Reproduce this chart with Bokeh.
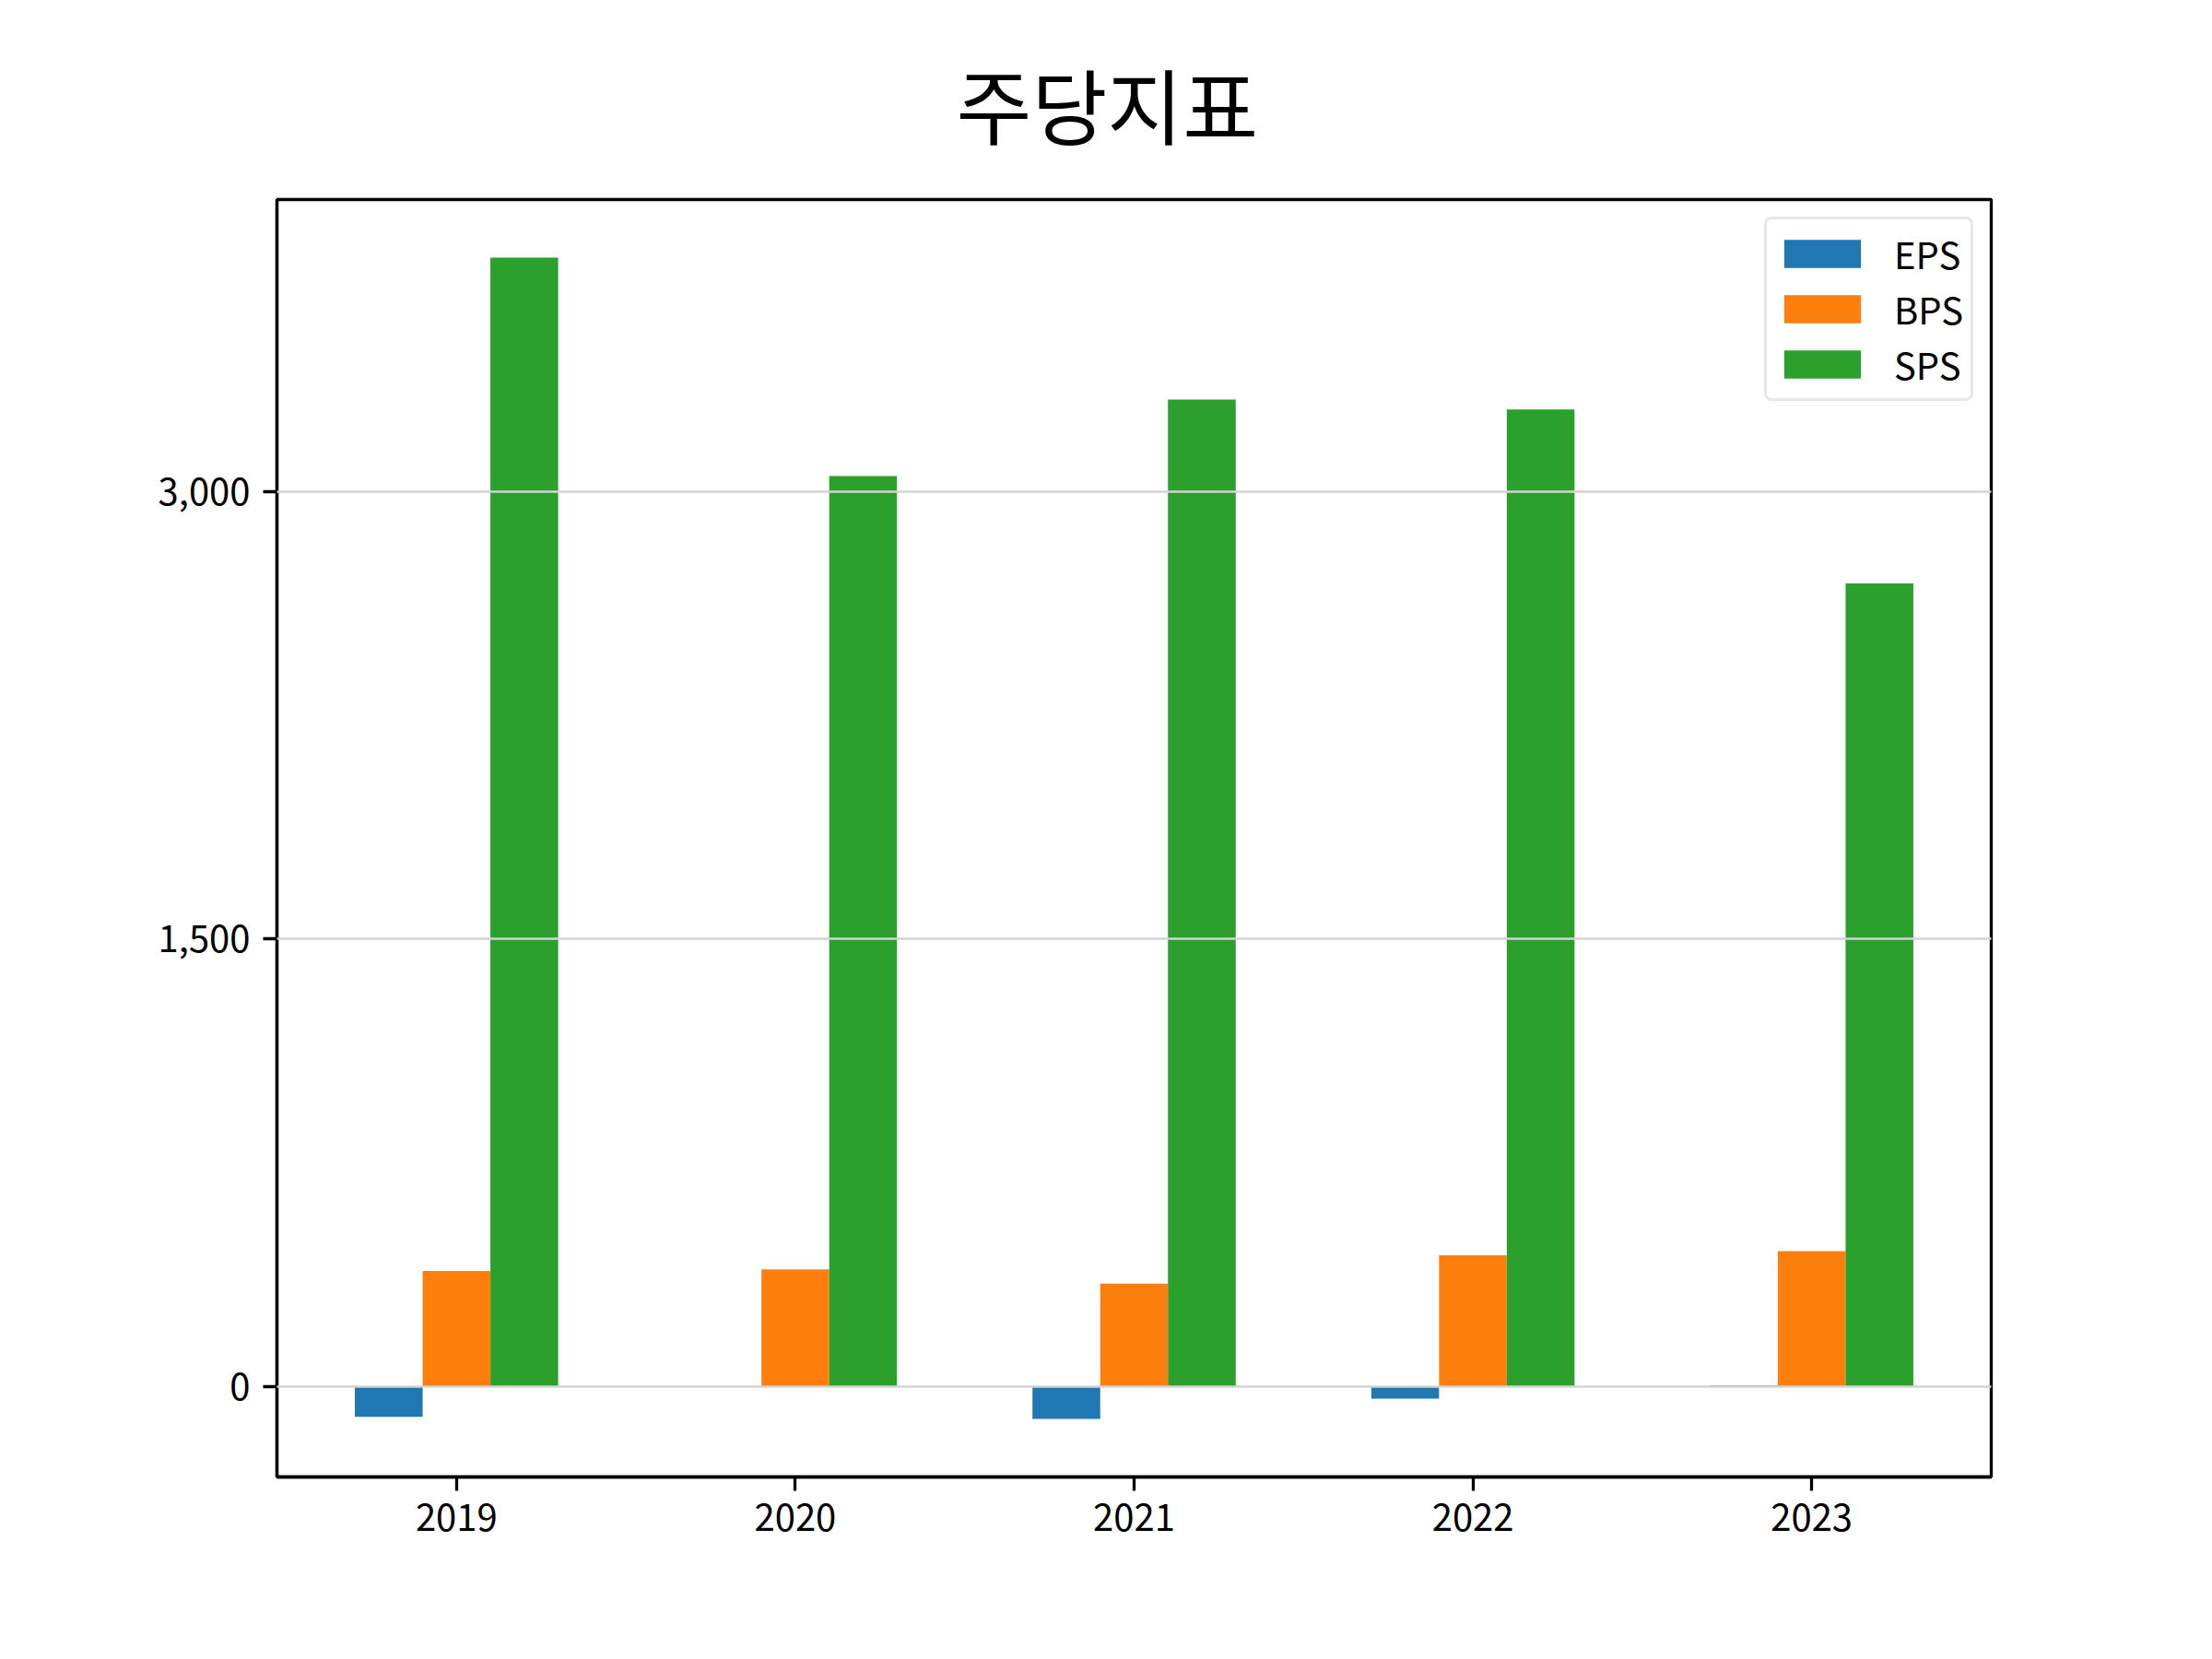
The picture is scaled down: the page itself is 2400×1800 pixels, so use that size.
import numpy as np
from bokeh.plotting import figure
from bokeh.models import (ColumnDataSource, FixedTicker, NumeralTickFormatter,
                          Legend, LegendItem, Range1d)
from bokeh.embed import file_html
from bokeh.resources import INLINE

# ---- data ----
years = ["2019", "2020", "2021", "2022", "2023"]
eps = [-101, 0, -108, -40, 4]
bps = [388, 393, 345, 440, 454]
sps = [3784, 3052, 3308, 3275, 2692]
series_names = ["EPS", "BPS", "SPS"]
series_colors = ["#1f77b4", "#ff7f0e", "#2ca02c"]
title_text = "주당지표"
y_ticks = [0, 1500, 3000]

FONT = "Noto Sans CJK KR"
W, H = 2384, 1784
bar_w = 0.2

idx = np.arange(len(years))
all_vals = eps + bps + sps
lo, hi = min(all_vals), max(all_vals)
span = hi - lo
xlo, xhi = -0.3, len(years) - 1 + 0.3
xspan = xhi - xlo

p = figure(width=W, height=H, output_backend="svg", toolbar_location=None,
           x_range=Range1d(xlo - 0.05 * xspan, xhi + 0.05 * xspan),
           y_range=Range1d(lo - 0.05 * span, hi + 0.05 * span),
           min_border_left=300, min_border_right=224,
           min_border_top=216, min_border_bottom=182)

renderers = []
for k, (name, vals, col) in enumerate(zip(series_names, [eps, bps, sps], series_colors)):
    src = ColumnDataSource(dict(x=idx + (k - 1) * bar_w, top=vals))
    r = p.vbar(x="x", top="top", bottom=0, width=bar_w, source=src,
               fill_color=col, line_color=None)
    renderers.append((name, r))

# title
p.title.text = title_text
p.title.text_font = FONT
p.title.text_font_size = "89px"
p.title.text_font_style = "normal"
p.title.text_color = "black"
p.title.align = "left"
p.title.offset = 737
p.title.standoff = 82

# axes
p.xaxis.ticker = FixedTicker(ticks=list(idx))
p.xaxis.major_label_overrides = {int(i): y for i, y in zip(idx, years)}
p.yaxis.ticker = FixedTicker(ticks=y_ticks)
p.yaxis.formatter = NumeralTickFormatter(format="0,0")
for ax in (p.xaxis, p.yaxis):
    ax.major_label_text_font = FONT
    ax.major_label_text_font_size = "40px"
    ax.major_label_text_color = "black"
    ax.axis_line_width = 3.3
    ax.axis_line_color = "black"
    ax.major_tick_line_width = 3.3
    ax.major_tick_line_color = "black"
    ax.major_tick_out = 15
    ax.major_tick_in = 0
    ax.minor_tick_line_color = None
    ax.major_label_standoff = 14

p.xgrid.grid_line_color = None
p.ygrid.grid_line_color = "#d3d3d3"
p.ygrid.grid_line_width = 2.5
p.ygrid.level = "overlay"

p.outline_line_color = "black"
p.outline_line_width = 3.3
p.background_fill_color = "white"
p.border_fill_color = "white"

legend = Legend(items=[LegendItem(label=n, renderers=[r]) for n, r in renderers],
                location="top_right")
legend.label_text_font = FONT
legend.label_text_font_size = "40px"
legend.label_text_color = "black"
legend.glyph_width = 104
legend.glyph_height = 38
legend.label_height = 42
legend.label_standoff = 26
legend.spacing = 2
legend.padding = 8
legend.margin = 19
legend.border_line_color = "#d0d0d0"
legend.border_line_width = 3
legend.background_fill_alpha = 0.8
if "border_radius" in legend.properties():
    legend.border_radius = 8
p.add_layout(legend, "center")

open("out.html", "w").write(file_html(p, INLINE))
